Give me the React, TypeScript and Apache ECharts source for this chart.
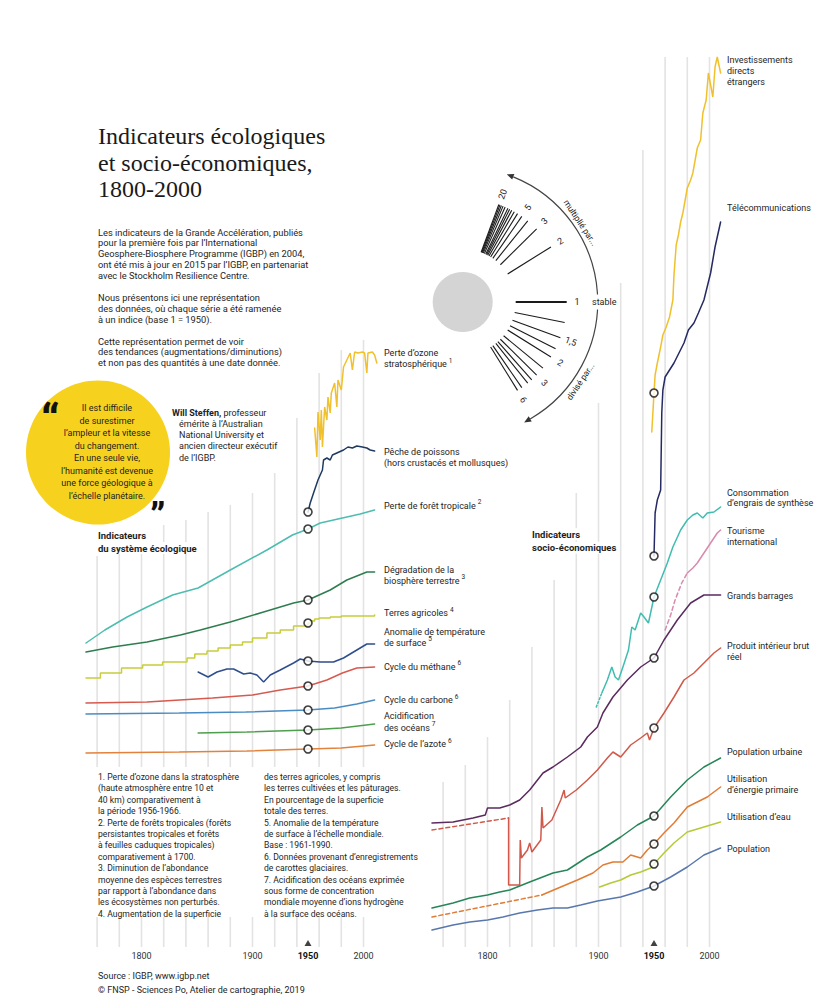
import React, { useEffect, useRef } from 'react';
import * as echarts from 'echarts';

// x = year, y = vertical level (chart units, 0 = baseline of the panels)

// ---- Indicateurs du système écologique ----
const ozoneLoss = [[1956,52.2],[1958,49.3],[1959,53.8],[1961,51.0],[1962,54.0],[1963,50.3],[1965,54.3],[1967,53.0],[1968,55.3],[1970,53.7],[1971,55.7],[1974,56.7],[1976,54.3],[1977,57.0],[1980,56.0],[1982,58.3],[1985,59.0],[1988,59.7],[1990,58.0],[1992,59.8],[1995,59.7],[1999,59.8],[2001,59.7],[2003,57.7],[2004,59.7],[2008,59.8],[2010,59.5],[2012,58.7]];
const fishCatch = [[1950,43.8],[1952,44.7],[1955,45.7],[1959,47.0],[1963,48.0],[1964,49.0],[1967,49.2],[1970,49.0],[1972,49.5],[1976,49.7],[1982,50.0],[1986,50.3],[1990,50.2],[1994,50.4],[1999,50.3],[2003,50.2],[2006,50.0],[2010,49.9]];
const tropicalForestLoss = [[1750,30.7],[1767,32.0],[1787,33.3],[1805,34.3],[1828,35.5],[1851,36.2],[1880,38.0],[1913,40.0],[1936,41.5],[1950,42.1],[1961,42.7],[1985,43.3],[1997,43.6],[2010,44.0]];
const biosphereDegradation = [[1750,29.8],[1774,30.3],[1805,30.8],[1835,31.5],[1853,32.0],[1880,32.8],[1910,33.8],[1937,34.7],[1950,35.0],[1970,36.0],[1985,37.0],[2003,37.8],[2010,37.8]];
const agriculturalLand = [[1750,27.2],[1763,27.7],[1782,28.2],[1801,28.5],[1819,28.8],[1841,29.2],[1848,29.6],[1859,29.9],[1869,30.2],[1880,30.5],[1891,30.8],[1900,31.2],[1913,31.7],[1925,32.0],[1937,32.4],[1950,32.7],[1953,32.9],[1956,33.1],[1960,33.2],[1970,33.3],[1980,33.4],[2010,33.5]];
const temperatureAnomaly = [[1851,27.8],[1860,27.3],[1868,27.8],[1877,28.1],[1883,28.1],[1892,27.6],[1898,27.7],[1904,27.5],[1910,26.8],[1916,27.5],[1925,28.0],[1937,28.7],[1943,29.1],[1950,28.9],[1961,28.8],[1973,28.8],[1982,29.2],[1994,30.0],[2003,30.6],[2010,30.6]];
const methaneCycle = [[1750,24.7],[1805,24.8],[1864,25.2],[1900,25.5],[1925,26.0],[1950,26.4],[1967,27.0],[1981,27.7],[1994,28.2],[2010,28.3]];
const carbonCycle = [[1750,23.6],[1834,23.7],[1894,23.8],[1950,24.0],[1974,24.2],[1994,24.6],[2010,25.0]];
const oceanAcidification = [[1851,21.7],[1895,21.8],[1950,22.0],[1980,22.2],[2010,22.6]];
const nitrogenCycle = [[1750,19.7],[1834,19.8],[1895,19.9],[1950,20.1],[1980,20.2],[2010,20.5]];

// ---- Indicateurs socio-économiques ----
const foreignInvestment = [[1948,51.8],[1950,55.7],[1951,57.5],[1953,58.7],[1956,60.3],[1958,61.5],[1961,62.3],[1964,63.3],[1967,65.0],[1968,67.5],[1970,70.5],[1972,71.5],[1974,72.8],[1976,73.7],[1980,76.2],[1983,77.0],[1985,77.7],[1989,80.2],[1992,81.0],[1994,83.7],[1997,85.0],[1999,87.7],[2003,85.3],[2005,88.3],[2007,89.3],[2010,87.7]];
const telecommunications = [[1950,39.4],[1951,43.7],[1953,45.0],[1956,46.0],[1957,53.7],[1958,56.0],[1960,57.3],[1968,58.7],[1977,60.7],[1981,62.0],[1986,62.7],[1990,63.7],[1995,65.0],[2001,67.7],[2005,70.3],[2010,72.8]];
const fertilizerEarly = [[1898,24.3],[1903,25.7]];
const fertilizer = [[1903,25.7],[1908,27.0],[1912,28.3],[1915,27.3],[1918,27.0],[1922,28.3],[1927,30.0],[1930,32.3],[1933,32.0],[1938,33.7],[1941,33.3],[1945,32.7],[1950,35.3],[1956,37.0],[1962,38.7],[1967,40.3],[1974,42.0],[1980,43.0],[1985,43.5],[1989,43.7],[1994,43.2],[1998,43.7],[2004,43.8],[2010,44.3]];
const tourismEarly = [[1960,32.0],[1965,33.5],[1969,35.0],[1975,36.7],[1980,37.7]];
const tourism = [[1980,37.7],[1985,38.2],[1989,38.7],[1995,39.7],[2001,40.7],[2007,41.7],[2010,42.0]];
const largeDams = [[1750,12.7],[1769,12.8],[1787,13.2],[1798,13.5],[1800,14.2],[1811,14.2],[1820,14.5],[1829,15.0],[1838,16.0],[1850,17.7],[1859,18.3],[1872,19.3],[1884,20.3],[1890,21.3],[1899,22.3],[1904,23.7],[1913,25.3],[1926,27.0],[1938,28.3],[1950,29.2],[1959,31.0],[1971,33.0],[1983,34.7],[1995,35.5],[2010,35.5]];
const gdpEarly = [[1750,12.0],[1819,13.2]];
const gdp = [[1819,13.2],[1819,6.5],[1829,6.5],[1829.5,11.0],[1830.5,9.2],[1836,10.0],[1838,10.7],[1840,9.8],[1848,11.0],[1849,14.3],[1850,12.2],[1858,13.0],[1866,15.0],[1869,16.0],[1870,15.2],[1880,16.0],[1890,17.0],[1899,18.0],[1908,19.2],[1913,19.8],[1920,19.3],[1929,20.5],[1938,21.2],[1944,21.7],[1946,21.0],[1950,22.2],[1959,23.7],[1968,25.3],[1977,27.0],[1986,27.7],[1995,28.7],[2004,29.7],[2010,30.2]];
const urbanPopulation = [[1750,4.2],[1769,4.7],[1784,5.2],[1800,5.5],[1811,5.8],[1820,6.0],[1838,6.8],[1859,7.7],[1872,8.0],[1890,9.3],[1902,10.0],[1920,11.3],[1935,12.5],[1950,13.4],[1965,15.3],[1980,17.0],[1995,18.3],[2010,19.2]];
const energyEarly = [[1750,3.3],[1849,5.5]];
const primaryEnergy = [[1849,5.5],[1866,6.3],[1881,7.0],[1895,7.7],[1904,8.5],[1913,8.8],[1922,8.8],[1929,9.5],[1938,9.2],[1944,10.0],[1950,10.6],[1959,11.7],[1968,12.7],[1980,14.3],[1989,14.8],[1998,15.3],[2010,16.3]];
const waterUse = [[1901,6.3],[1911,6.7],[1920,7.0],[1929,7.5],[1938,7.8],[1947,8.2],[1950,8.6],[1959,9.7],[1968,10.7],[1980,11.8],[1992,12.2],[2001,12.5],[2010,12.8]];
const population = [[1750,2.0],[1769,2.5],[1784,2.8],[1800,3.0],[1814,3.3],[1829,3.7],[1845,4.0],[1859,4.2],[1872,4.2],[1884,4.5],[1899,4.9],[1920,5.3],[1935,5.8],[1950,6.4],[1965,7.3],[1980,8.3],[1995,9.5],[2010,10.2]];

// ---- axes / grid lines ----
const BASE_YEAR = 1950;
const TICK_LABELS = [1800, 1900, 1950, 2000];
const GRID_YEARS = [1760, 1780, 1800, 1820, 1840, 1860, 1880, 1900, 1920, 1940, 1960, 1980, 2000];
const LEFT_GRID_TOPS = [39.4, 39.8, 40.5, 42.5, 43.0, 43.8, 44.5, 45.7, 47.7, 53.2, 57.7, 60.0, 61.0];
const LEFT_GRID_BREAK = [18.3, 3.3];
const RIGHT_GRID_TOPS = [16.8, 18.5, 21.3, 25.0, 30.3, 37.0, 45.7, 54.7, 66.7, 80.0, 89.3, 89.3, 89.3];
const GRID_BOTTOM = 0.3;
const MARKER_LEVEL = 0.7;

// ---- legend fan ----
const MULTIPLIERS = [2, 3, 4, 5, 6, 7, 8, 9, 10, 12, 14, 16, 18, 20];
const DIVISORS = [1.25, 1.5, 1.75, 2, 2.5, 3, 3.5, 4, 5, 6];
const MULT_LABELS = [2, 3, 5, 20];
const DIV_LABELS = [1.5, 2, 3, 6];

const SANS = 'Roboto, "Liberation Sans", sans-serif';
const SERIF = '"Liberation Serif", "DejaVu Serif", serif';
const INK = '#1e1e1e';

const INTRO = [
  'Les indicateurs de la Grande Accélération, publiés',
  'pour la première fois par l’International',
  'Geosphere-Biosphere Programme (IGBP) en 2004,',
  'ont été mis à jour en 2015 par l’IGBP, en partenariat',
  'avec le Stockholm Resilience Centre.',
  '',
  'Nous présentons ici une représentation',
  'des données, où chaque série a été ramenée',
  'à un indice (base 1 = 1950).',
  '',
  'Cette représentation permet de voir',
  'des tendances (augmentations/diminutions)',
  'et non pas des quantités à une date donnée.',
];
const QUOTE = [
  'Il est difficile', 'de surestimer', 'l’ampleur et la vitesse', 'du changement.',
  'En une seule vie,', 'l’humanité est devenue', 'une force géologique à', 'l’échelle planétaire.',
];
const NOTES_1 = [
  '1. Perte d’ozone dans la stratosphère', '(haute atmosphère entre 10 et', '40 km) comparativement à',
  'la période 1956-1966.', '2. Perte de forêts tropicales (forêts', 'persistantes tropicales et forêts',
  'à feuilles caduques tropicales)', 'comparativement à 1700.', '3. Diminution de l’abondance',
  'moyenne des espèces terrestres', 'par rapport à l’abondance dans', 'les écosystèmes non perturbés.',
  '4. Augmentation de la superficie',
];
const NOTES_2 = [
  'des terres agricoles, y compris', 'les terres cultivées et les pâturages.', 'En pourcentage de la superficie',
  'totale des terres.', '5. Anomalie de la température', 'de surface à l’échelle mondiale.', 'Base : 1961-1990.',
  '6. Données provenant d’enregistrements', 'de carottes glaciaires.', '7. Acidification des océans exprimée',
  'sous forme de concentration', 'mondiale moyenne d’ions hydrogène', 'à la surface des océans.',
];
// [y, text, note number]
const LEFT_LABELS: [number, string, string?][] = [
  [352.7, 'Perte d’ozone'], [364, 'stratosphérique', '1'], [451.7, 'Pêche de poissons'], [462.7, '(hors crustacés et mollusques)'],
  [505.7, 'Perte de forêt tropicale', '2'], [570, 'Dégradation de la'], [580.5, 'biosphère terrestre', '3'], [613, 'Terres agricoles', '4'],
  [631.7, 'Anomalie de température'], [642.5, 'de surface', '5'], [666.5, 'Cycle du méthane', '6'], [700, 'Cycle du carbone', '6'],
  [716, 'Acidification'], [727.5, 'des océans', '7'], [744.3, 'Cycle de l’azote', '6'],
];
const RIGHT_LABELS: [number, string][] = [
  [60, 'Investissements'], [71, 'directs'], [82.3, 'étrangers'], [208.3, 'Télécommunications'], [492.7, 'Consommation'],
  [503.3, 'd’engrais de synthèse'], [530.7, 'Tourisme'], [541.7, 'international'], [596, 'Grands barrages'],
  [645.7, 'Produit intérieur brut'], [656.7, 'réel'], [751.7, 'Population urbaine'], [779.3, 'Utilisation'],
  [790, 'd’énergie primaire'], [816.7, 'Utilisation d’eau'], [849.3, 'Population'],
];

let measureCtx: CanvasRenderingContext2D | null = null;
function measure(text: string, size: number, weight = 'normal') {
  if (!measureCtx) measureCtx = document.createElement('canvas').getContext('2d');
  if (!measureCtx) return text.length * size * 0.5;
  measureCtx.font = `${weight} ${size}px Roboto, "Liberation Sans", sans-serif`;
  return measureCtx.measureText(text).width;
}

function txt(x: number, y: number, text: string, o: any = {}) {
  const align = o.align || 'left';
  return {
    type: 'text', x, y, z: o.z ?? 50, rotation: o.rot || 0, silent: true,
    style: {
      text, x: 0, y: 0, fill: o.color || INK, fontSize: o.size || 9, fontFamily: o.family || SANS,
      fontWeight: o.weight || 'normal', textAlign: align, align, textVerticalAlign: 'middle', verticalAlign: 'middle',
      backgroundColor: o.bg, padding: o.pad, rich: o.rich, lineHeight: o.lh,
    },
  };
}
function block(x: number, y0: number, lines: string[], lh: number, o: any = {}) {
  return lines.map((l, i) => txt(x, y0 + i * lh, l, o)).filter((e) => e.style.text !== '');
}
function labelWithNote(x: number, y: number, text: string, note?: string) {
  const out: any[] = [txt(x, y, text)];
  if (note) out.push(txt(x + measure(text, 9) + 2, y - 3.5, note, { size: 6.5 }));
  return out;
}

function buildOption() {
  const lineS = (name: string, data: number[][], color: string, panel: number, o: any = {}) => ({
    type: 'line', name, data, xAxisIndex: panel, yAxisIndex: panel, symbol: 'none', silent: true,
    step: o.step || false, z: 3,
    lineStyle: { color, width: o.width || 1.5, type: o.dash || 'solid', cap: 'round' },
  });

  const left = [
    { d: ozoneLoss, c: '#f0c12c' }, { d: fishCatch, c: '#1f3a60', dot: true },
    { d: tropicalForestLoss, c: '#4dbdb0', dot: true }, { d: biosphereDegradation, c: '#2e7d4f', dot: true },
    { d: agriculturalLand, c: '#c8cd3c', dot: true, step: 'end' }, { d: temperatureAnomaly, c: '#2f4e8c', dot: true },
    { d: methaneCycle, c: '#d65a4e', dot: true }, { d: carbonCycle, c: '#4a8cc2', dot: true },
    { d: oceanAcidification, c: '#4e9e4c', dot: true }, { d: nitrogenCycle, c: '#e2823c', dot: true },
  ];
  const right = [
    { d: foreignInvestment, c: '#f0c12c', dot: true }, { d: telecommunications, c: '#252a63', dot: true },
    { d: fertilizerEarly, c: '#40bdb1', dash: [2, 2] }, { d: fertilizer, c: '#40bdb1', dot: true },
    { d: tourismEarly, c: '#d98aae', dash: [4, 3] }, { d: tourism, c: '#d98aae' },
    { d: largeDams, c: '#5a2b5e', dot: true }, { d: gdpEarly, c: '#d0594a', dash: [4, 3] },
    { d: gdp, c: '#d0594a', dot: true }, { d: urbanPopulation, c: '#278659', dot: true },
    { d: energyEarly, c: '#e07c34', dash: [4, 3] }, { d: primaryEnergy, c: '#e07c34', dot: true },
    { d: waterUse, c: '#b6ca35', dot: true }, { d: population, c: '#5878ad', dot: true },
  ];

  const series: any[] = [];
  const gridRender = (params: any, api: any) => {
    const a = api.coord([api.value(0), api.value(1)]);
    const b = api.coord([api.value(0), api.value(2)]);
    return { type: 'line', shape: { x1: a[0], y1: a[1], x2: b[0], y2: b[1] }, style: { stroke: '#e3e3e3', lineWidth: 1.6 } };
  };
  const leftGrid = GRID_YEARS.flatMap((yr, i) => [[yr, LEFT_GRID_TOPS[i], LEFT_GRID_BREAK[0]], [yr, LEFT_GRID_BREAK[1], GRID_BOTTOM]]);
  const rightGrid = GRID_YEARS.map((yr, i) => [yr, RIGHT_GRID_TOPS[i], GRID_BOTTOM]);
  series.push({ type: 'custom', xAxisIndex: 0, yAxisIndex: 0, data: leftGrid, renderItem: gridRender, encode: { x: 0, y: [1, 2] }, z: 1, silent: true });
  series.push({ type: 'custom', xAxisIndex: 1, yAxisIndex: 1, data: rightGrid, renderItem: gridRender, encode: { x: 0, y: [1, 2] }, z: 1, silent: true });

  left.forEach((s, i) => series.push(lineS('L' + i, s.d, s.c, 0, s)));
  right.forEach((s, i) => series.push(lineS('R' + i, s.d, s.c, 1, s)));

  const base = (list: any[]) => list.filter((s) => s.dot).map((s) => s.d.find((p: number[]) => p[0] === BASE_YEAR)).filter(Boolean);
  const dotStyle = { color: '#fff', borderColor: '#111', borderWidth: 1.6 };
  series.push({ type: 'scatter', xAxisIndex: 0, yAxisIndex: 0, data: base(left), symbolSize: 8, itemStyle: dotStyle, z: 5, silent: true });
  series.push({ type: 'scatter', xAxisIndex: 1, yAxisIndex: 1, data: base(right), symbolSize: 8, itemStyle: dotStyle, z: 5, silent: true });
  [0, 1].forEach((p) => series.push({ type: 'scatter', xAxisIndex: p, yAxisIndex: p, data: [[BASE_YEAR, MARKER_LEVEL]], symbol: 'triangle', symbolSize: [7, 6], itemStyle: { color: '#111' }, z: 5, silent: true }));

  // ---------- graphic ----------
  const g: any[] = [];
  g.push({ type: 'circle', shape: { cx: 98, cy: 452.5, r: 72 }, style: { fill: '#f6d21e' }, z: 1, silent: true });
  g.push(txt(41, 421, '“', { size: 44, weight: 900, color: '#111' }));
  const closeQuoteX = 98 + measure('Indicateurs', 9.5, 'bold') + 4;
  g.push(txt(closeQuoteX, 517, '”', { size: 36, weight: 900, color: '#111' }));
  g.push(...block(107, 408.3, QUOTE, 12.5, { align: 'center' }));

  g.push(...block(98, 136, ['Indicateurs écologiques', 'et socio-économiques,', '1800-2000'], 26.5, { size: 24, family: SERIF, color: '#1a1a1a' }));
  g.push(...block(98, 232, INTRO, 10.9, { size: 9.3 }));

  g.push(txt(172, 413, '{b|Will Steffen,} professeur', { rich: { b: { fontWeight: 'bold', fontSize: 9, fontFamily: SANS, fill: INK, color: INK } } }));
  g.push(...block(179, 424, ['émérite à l’Australian', 'National University et', 'ancien directeur exécutif', 'de l’IGBP.'], 11.2));

  // legend fan
  const cx = 462.7, cy = 302, r1 = 53, r2 = 104, rl = 115, ra = 135;
  const fan = (m: number) => Math.atan(0.9 * Math.log(m));
  g.push({ type: 'circle', shape: { cx: cx, cy: cy, r: 30 }, style: { fill: '#d4d4d4' }, z: 2, silent: true });
  const ray = (a: number, w: number) => ({ type: 'line', z: 3, silent: true, shape: { x1: cx + r1 * Math.cos(a), y1: cy - r1 * Math.sin(a), x2: cx + r2 * Math.cos(a), y2: cy - r2 * Math.sin(a) }, style: { stroke: '#1a1a1a', lineWidth: w } });
  g.push(ray(0, 2.2));
  MULTIPLIERS.forEach((m) => g.push(ray(fan(m), 1.1)));
  DIVISORS.forEach((d) => g.push(ray(-fan(d), 1.1)));
  MULT_LABELS.forEach((m) => { const a = fan(m); g.push(txt(cx + rl * Math.cos(a), cy - rl * Math.sin(a), String(m), { align: 'center', rot: a, size: 9 })); });
  DIV_LABELS.forEach((d) => { const a = -fan(d); g.push(txt(cx + rl * Math.cos(a), cy - rl * Math.sin(a), String(d).replace('.', ','), { align: 'center', rot: a, size: 9 })); });
  const aStart = -68 * Math.PI / 180, aEnd = 60 * Math.PI / 180;
  g.push({ type: 'arc', z: 3, silent: true, shape: { cx, cy, r: ra, startAngle: aStart, endAngle: aEnd, clockwise: true }, style: { stroke: '#444', lineWidth: 1.2, fill: 'none' } });
  const arrow = (t: number, sgn: number) => {
    const px = cx + ra * Math.cos(t), py = cy + ra * Math.sin(t);
    const dx = sgn * -Math.sin(t), dy = sgn * Math.cos(t);
    const tip = [px + dx * 7, py + dy * 7];
    return { type: 'polygon', z: 3, silent: true, shape: { points: [tip, [px - dy * 3, py + dx * 3], [px + dy * 3, py - dx * 3]] }, style: { fill: '#333' } };
  };
  g.push(arrow(aStart, -1), arrow(aEnd, 1));
  g.push(txt(577, 302, '1', { align: 'center', size: 9 }));
  g.push(txt(590, 302, 'stable', { size: 9, bg: '#fff', pad: [3, 2, 3, 2], z: 60 }));
  const tA = 34 * Math.PI / 180;
  g.push(txt(cx + 142 * Math.cos(tA), cy - 142 * Math.sin(tA), 'multiplié par...', { align: 'center', size: 8.5, rot: -(Math.PI / 2 - tA) }));
  g.push(txt(cx + 142 * Math.cos(tA), cy + 142 * Math.sin(tA), 'divisé par...', { align: 'center', size: 8.5, rot: Math.PI / 2 - tA }));

  // series labels
  LEFT_LABELS.forEach(([y, t, n]) => g.push(...labelWithNote(384, y, t, n)));
  RIGHT_LABELS.forEach(([y, t]) => g.push(txt(727, y, t)));

  g.push(...block(98, 535, ['Indicateurs', 'du système écologique'], 13, { weight: 'bold', size: 9.5, bg: '#fff', pad: [1, 2, 1, 0] }));
  g.push(...block(532, 534.3, ['Indicateurs', 'socio-économiques'], 13.4, { weight: 'bold', size: 9.5, bg: '#fff', pad: [1, 2, 1, 0] }));

  g.push(...block(98, 777, NOTES_1, 11.4, { size: 8.6 }));
  g.push(...block(264, 777, NOTES_2, 11.4, { size: 8.6 }));
  g.push(txt(98, 976, 'Source : IGBP, www.igbp.net', { size: 9 }));
  g.push(txt(98, 990, '© FNSP - Sciences Po, Atelier de cartographie, 2019', { size: 9 }));

  const xAxis = [0, 1].map((i) => ({
    type: 'value', gridIndex: i, min: 1740, max: 2020, interval: 10,
    axisLine: { show: false }, axisTick: { show: false }, splitLine: { show: false },
    axisLabel: {
      margin: 1, fontSize: 9, color: '#333', fontFamily: SANS, hideOverlap: false,
      formatter: (v: number) => (TICK_LABELS.includes(v) ? (v === BASE_YEAR ? `{b|${v}}` : `${v}`) : ''),
      rich: { b: { fontWeight: 'bold', fontSize: 9, color: '#111', fontFamily: SANS } },
    },
  }));
  const yAxis = [0, 1].map((i) => ({ type: 'value', gridIndex: i, min: 0, max: 95, show: false }));

  return {
    animation: false,
    backgroundColor: '#fff',
    grid: [
      { left: 74.9, top: 0, width: 310.8, height: 950 },
      { left: 420.9, top: 0, width: 310.8, height: 950 },
    ],
    xAxis, yAxis, series, graphic: g,
  };
}

export default function App() {
  const ref = useRef<HTMLDivElement>(null);
  useEffect(() => {
    if (!ref.current) return;
    const chart = echarts.init(ref.current, null, { renderer: 'svg' });
    chart.setOption(buildOption() as any);
    return () => chart.dispose();
  }, []);
  return <div ref={ref} style={{ position: 'absolute', left: 0, top: 0, width: 820, height: 997, background: '#fff' }} />;
}
